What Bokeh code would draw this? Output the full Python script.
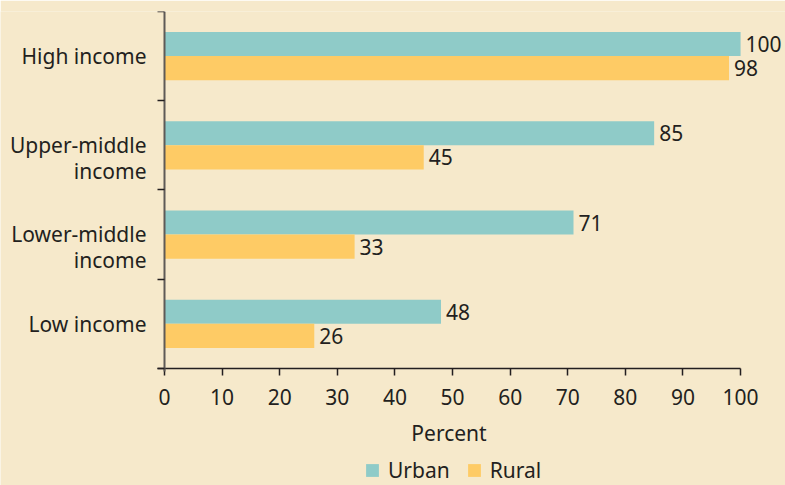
from bokeh.plotting import figure
from bokeh.models import (ColumnDataSource, Range1d, FixedTicker, LabelSet,
                          Legend, LegendItem)
from bokeh.core.properties import value
from bokeh.embed import file_html
from bokeh.resources import INLINE

# ---- data (bottom to top) ----
categories = ["Low income", "Lower-middle\nincome", "Upper-middle\nincome", "High income"]
urban = [48, 71, 85, 100]
rural = [26, 33, 45, 98]
x_ticks = [0, 10, 20, 30, 40, 50, 60, 70, 80, 90, 100]

BG = "#F6E9CB"
URBAN_C = "#8FCBC8"
RURAL_C = "#FECB65"
TXT = "#231F20"
FONT = "Noto Sans"
FS = "21px"

centers = [i + 0.5 for i in range(len(categories))]
bar_h = 0.27
off = 0.135
# two-line labels: first line sits on the band centre
label_pos = [round(c - 0.14, 2) if "\n" in lab else c
             for c, lab in zip(centers, categories)]

src_u = ColumnDataSource(dict(y=[c + off for c in centers], v=urban,
                              t=[str(v) for v in urban]))
src_r = ColumnDataSource(dict(y=[c - off for c in centers], v=rural,
                              t=[str(v) for v in rural]))

p = figure(width=785, height=485, output_backend="svg", toolbar_location=None,
           x_range=Range1d(-28.47, 107.8), y_range=Range1d(-1.311, 4),
           min_border_left=0, min_border_right=0, min_border_top=11,
           min_border_bottom=0)
p.background_fill_color = BG
p.border_fill_color = BG
p.outline_line_color = None
p.xgrid.visible = False
p.ygrid.visible = False

r_u = p.hbar(y="y", right="v", left=0, height=bar_h, source=src_u,
             fill_color=URBAN_C, line_color=None)
r_r = p.hbar(y="y", right="v", left=0, height=bar_h, source=src_r,
             fill_color=RURAL_C, line_color=None)

for s in (src_u, src_r):
    p.add_layout(LabelSet(x="v", y="y", text="t", source=s, x_offset=5,
                          text_baseline="middle", text_align="left",
                          text_font=value(FONT), text_font_size=value(FS),
                          text_color=TXT))

# x axis (pinned at y = 0)
xa = p.xaxis[0]
xa.fixed_location = 0
xa.ticker = FixedTicker(ticks=x_ticks, minor_ticks=[])
xa.bounds = (-1.2, 100)
xa.axis_line_color = TXT
xa.axis_line_width = 1.5
xa.major_tick_line_color = TXT
xa.major_tick_line_width = 1.5
xa.major_tick_out = 7
xa.major_tick_in = 0
xa.minor_tick_line_color = None
xa.major_label_text_font = FONT
xa.major_label_text_font_size = FS
xa.major_label_text_color = TXT
xa.major_label_standoff = 14
xa.axis_label = "Percent"
xa.axis_label_text_font = FONT
xa.axis_label_text_font_size = FS
xa.axis_label_text_font_style = "normal"
xa.axis_label_text_color = TXT
xa.axis_label_standoff = 10

# y axis (pinned at x = 0)
ya = p.yaxis[0]
ya.fixed_location = 0
ya.bounds = (-0.03, 4)
ya.ticker = FixedTicker(ticks=label_pos, minor_ticks=[0, 1, 2, 3, 4])
ya.major_label_overrides = {c: lab for c, lab in zip(label_pos, categories)}
ya.axis_line_color = "#5E5A57"
ya.axis_line_width = 2
ya.major_tick_line_color = None
ya.major_tick_out = 0
ya.major_tick_in = 0
ya.minor_tick_line_color = TXT
ya.minor_tick_line_width = 1.5
ya.minor_tick_out = 7
ya.minor_tick_in = 0
ya.major_label_standoff = 11
ya.major_label_text_font = FONT
ya.major_label_text_font_size = FS
ya.major_label_text_color = TXT
ya.major_label_text_line_height = 0.92

legend = Legend(items=[LegendItem(label="Urban", renderers=[r_u]),
                       LegendItem(label="Rural", renderers=[r_r])],
                orientation="horizontal", location=(364, 1),
                background_fill_alpha=0, border_line_color=None,
                label_text_font=FONT, label_text_font_size=FS,
                label_text_color=TXT, glyph_width=16, glyph_height=16,
                label_standoff=8, spacing=16, padding=0, margin=0,
                label_height=20)
p.add_layout(legend, "center")

open("out.html", "w").write(file_html(p, INLINE))
